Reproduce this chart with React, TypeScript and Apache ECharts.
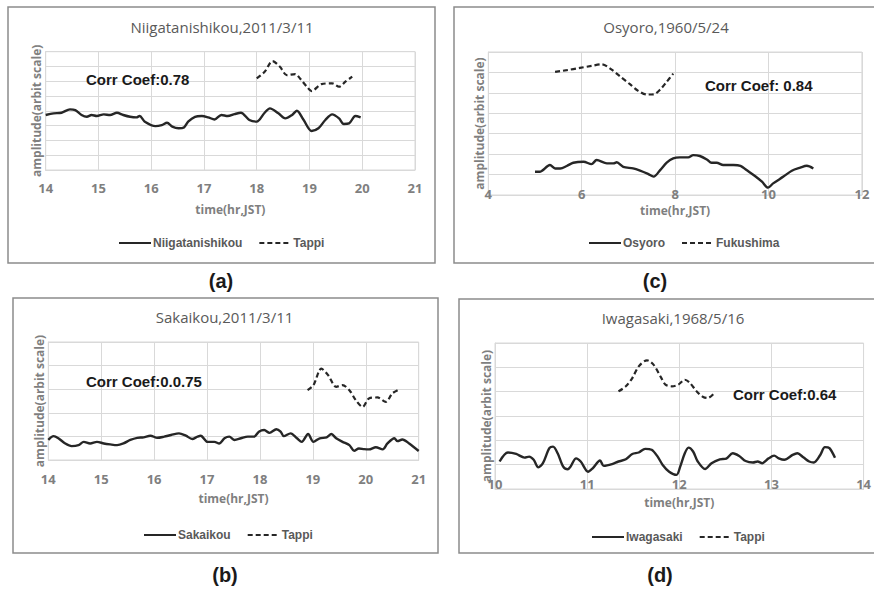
import React, { useEffect, useRef } from "react";
import * as echarts from "echarts";

// ---------- data (hours JST, amplitude in arbitrary grid units) ----------
const niigataTime = [14.0, 14.15, 14.3, 14.46, 14.56, 14.68, 14.78, 14.87, 14.97, 15.1, 15.22, 15.35, 15.47, 15.6, 15.72, 15.78, 15.88, 16.08, 16.2, 16.3, 16.4, 16.52, 16.62, 16.7, 16.83, 16.96, 17.08, 17.2, 17.33, 17.45, 17.58, 17.7, 17.86, 18.0, 18.15, 18.25, 18.41, 18.54, 18.67, 18.76, 18.89, 19.04, 19.17, 19.3, 19.43, 19.56, 19.65, 19.75, 19.87, 19.97];
const niigataAmp = [3.72, 3.83, 3.87, 4.1, 4.05, 3.72, 3.6, 3.72, 3.65, 3.76, 3.72, 3.87, 3.72, 3.6, 3.56, 3.65, 3.27, 2.97, 3.04, 3.2, 2.93, 2.82, 2.88, 3.27, 3.6, 3.65, 3.56, 3.42, 3.72, 3.65, 3.78, 3.87, 3.38, 3.27, 3.87, 4.17, 3.83, 3.49, 3.72, 4.01, 3.38, 2.64, 2.82, 3.38, 3.76, 3.49, 3.11, 3.15, 3.65, 3.56];
const tappiATime = [18.0, 18.15, 18.3, 18.44, 18.57, 18.73, 18.82, 18.95, 19.04, 19.23, 19.43, 19.56, 19.68, 19.81];
const tappiAAmp = [6.19, 6.64, 7.36, 6.98, 6.42, 6.49, 6.19, 5.63, 5.34, 5.81, 5.86, 5.63, 5.97, 6.31];

const osyoroTime = [5.0, 5.1, 5.32, 5.43, 5.54, 5.68, 5.82, 6.04, 6.21, 6.32, 6.54, 6.68, 6.75, 6.89, 7.1, 7.25, 7.42, 7.54, 7.68, 7.82, 7.96, 8.1, 8.28, 8.39, 8.53, 8.68, 8.78, 8.89, 9.03, 9.25, 9.4, 9.53, 9.71, 9.86, 9.99, 10.1, 10.32, 10.5, 10.68, 10.82, 10.96];
const osyoroAmp = [1.14, 1.14, 1.47, 1.3, 1.3, 1.42, 1.58, 1.63, 1.51, 1.71, 1.55, 1.55, 1.6, 1.38, 1.3, 1.19, 1.03, 0.9, 1.22, 1.58, 1.79, 1.84, 1.84, 1.95, 1.91, 1.74, 1.58, 1.58, 1.47, 1.47, 1.43, 1.22, 0.93, 0.65, 0.36, 0.57, 0.9, 1.19, 1.34, 1.43, 1.3];
const fukushimaTime = [5.43, 5.68, 5.96, 6.21, 6.43, 6.61, 6.82, 7.04, 7.21, 7.39, 7.54, 7.68, 7.82, 7.96];
const fukushimaAmp = [6.03, 6.11, 6.22, 6.32, 6.4, 6.19, 5.81, 5.41, 5.1, 4.92, 4.93, 5.16, 5.54, 5.94];

const sakaiTime = [14.0, 14.1, 14.19, 14.32, 14.44, 14.57, 14.67, 14.79, 14.92, 15.05, 15.17, 15.3, 15.42, 15.55, 15.68, 15.8, 15.93, 16.06, 16.19, 16.32, 16.47, 16.6, 16.72, 16.82, 16.88, 17.01, 17.14, 17.23, 17.33, 17.42, 17.52, 17.64, 17.77, 17.89, 17.98, 18.08, 18.18, 18.31, 18.39, 18.45, 18.58, 18.7, 18.79, 18.91, 19.01, 19.13, 19.26, 19.35, 19.44, 19.56, 19.69, 19.78, 19.87, 19.97, 20.06, 20.19, 20.32, 20.41, 20.54, 20.6, 20.69, 20.82, 21.0];
const sakaiAmp = [0.85, 1.01, 0.92, 0.7, 0.59, 0.63, 0.77, 0.7, 0.77, 0.7, 0.66, 0.63, 0.7, 0.85, 0.94, 0.96, 1.03, 0.94, 0.99, 1.06, 1.13, 1.03, 0.89, 0.99, 1.03, 0.77, 0.77, 0.7, 0.92, 0.99, 0.85, 0.92, 0.99, 0.99, 1.2, 1.27, 1.15, 1.3, 1.2, 1.01, 1.13, 0.92, 0.77, 1.1, 0.77, 0.92, 0.96, 1.1, 0.92, 0.77, 0.63, 0.39, 0.49, 0.46, 0.45, 0.54, 0.45, 0.7, 0.92, 0.8, 0.87, 0.7, 0.38];
const tappiBTime = [18.9, 19.01, 19.16, 19.29, 19.44, 19.56, 19.69, 19.81, 19.94, 20.06, 20.22, 20.38, 20.5, 20.63];
const tappiBAmp = [2.96, 3.17, 3.87, 3.59, 3.1, 3.17, 2.96, 2.54, 2.25, 2.61, 2.65, 2.46, 2.82, 2.99];

const iwaTime = [10.05, 10.14, 10.23, 10.32, 10.37, 10.42, 10.47, 10.52, 10.59, 10.63, 10.68, 10.74, 10.79, 10.82, 10.88, 10.93, 11.01, 11.06, 11.14, 11.18, 11.27, 11.34, 11.42, 11.49, 11.56, 11.63, 11.7, 11.76, 11.82, 11.89, 11.97, 12.01, 12.06, 12.1, 12.15, 12.2, 12.28, 12.35, 12.44, 12.51, 12.58, 12.65, 12.72, 12.8, 12.85, 12.9, 12.97, 13.03, 13.08, 13.14, 13.23, 13.28, 13.35, 13.41, 13.46, 13.53, 13.58, 13.63, 13.69];
const iwaAmp = [1.13, 1.5, 1.44, 1.29, 1.33, 1.2, 0.89, 1.06, 1.68, 1.74, 1.47, 0.92, 0.81, 0.92, 1.26, 1.13, 0.71, 0.85, 1.17, 0.95, 1.02, 1.13, 1.22, 1.44, 1.5, 1.65, 1.61, 1.36, 0.99, 0.71, 0.58, 0.92, 1.47, 1.7, 1.54, 1.13, 0.82, 1.06, 1.22, 1.25, 1.47, 1.36, 1.15, 1.09, 1.13, 1.06, 1.26, 1.37, 1.26, 1.2, 1.4, 1.47, 1.29, 1.13, 1.09, 1.4, 1.72, 1.68, 1.28];
const tappiDTime = [11.34, 11.42, 11.49, 11.56, 11.65, 11.72, 11.8, 11.85, 11.92, 11.99, 12.06, 12.11, 12.19, 12.26, 12.31, 12.38];
const tappiDAmp = [4.01, 4.22, 4.56, 5.04, 5.29, 5.11, 4.6, 4.29, 4.22, 4.29, 4.49, 4.38, 4.01, 3.78, 3.74, 3.94];

const panelTitles = ["Niigatanishikou,2011/3/11", "Osyoro,1960/5/24", "Sakaikou,2011/3/11", "Iwagasaki,1968/5/16"];
const corrTexts = ["Corr Coef:0.78", "Corr Coef: 0.84", "Corr Coef:0.0.75", "Corr Coef:0.64"];
const panelLetters = ["(a)", "(c)", "(b)", "(d)"];
const solidNames = ["Niigatanishikou", "Osyoro", "Sakaikou", "Iwagasaki"];
const dashedNames = ["Tappi", "Fukushima", "Tappi", "Tappi"];
const xRanges = [[14, 21, 1], [4, 12, 2], [14, 21, 1], [10, 14, 1]];
const yMaxes = [8, 7, 5, 6];

const solidData = [[niigataTime, niigataAmp], [osyoroTime, osyoroAmp], [sakaiTime, sakaiAmp], [iwaTime, iwaAmp]];
const dashedData = [[tappiATime, tappiAAmp], [fukushimaTime, fukushimaAmp], [tappiBTime, tappiBAmp], [tappiDTime, tappiDAmp]];

// ---------- layout ----------
const layout = [
  { grid: { left: 45.7, top: 51.7, width: 369.3, height: 118.3 }, box: [8, 7, 427, 256], titleX: 222, titleY: 19, corr: [86, 79], letter: [221, 281], legend: [118, 237], labelMargin: 11, nameGap: 33 },
  { grid: { left: 488.3, top: 52, width: 373.6, height: 143 }, box: [454, 7, 440, 256], titleX: 666, titleY: 19, corr: [705, 85], letter: [655, 281], legend: [588, 237], labelMargin: -8, nameGap: 9 },
  { grid: { left: 48.3, top: 342, width: 370.4, height: 118 }, box: [13, 298, 425, 255], titleX: 224.5, titleY: 309, corr: [86, 381], letter: [225, 575], legend: [143, 529], labelMargin: 12, nameGap: 32 },
  { grid: { left: 495, top: 343, width: 371.7, height: 146 }, box: [459, 299, 440, 254], titleX: 673, titleY: 310, corr: [733, 394], letter: [660, 575], legend: [591, 531], labelMargin: -12, nameGap: 7 },
];

const GRID_COLOR = "#d9d9d9";
const AXIS_TEXT = "#7f7f7f";
const TITLE_COLOR = "#595959";
const LINE_COLOR = "#262626";
const SANS = "'Open Sans', 'Noto Sans', sans-serif";
const ARIAL = "'Liberation Sans', Arial, sans-serif";

const zip = (t: number[], v: number[]) => t.map((x, i) => [x, v[i]]);

function buildOption() {
  const grid: any[] = [];
  const xAxis: any[] = [];
  const yAxis: any[] = [];
  const series: any[] = [];
  const title: any[] = [];
  const legend: any[] = [];
  const graphic: any[] = [];

  layout.forEach((L, i) => {
    grid.push({ ...L.grid, show: true, borderColor: GRID_COLOR, borderWidth: 1, containLabel: false });
    const [xmin, xmax, xint] = xRanges[i];
    xAxis.push({
      gridIndex: i, type: "value", min: xmin, max: xmax, interval: xint,
      axisLine: { show: true, lineStyle: { color: GRID_COLOR } },
      axisTick: { show: false },
      splitLine: { show: true, lineStyle: { color: GRID_COLOR } },
      axisLabel: { margin: L.labelMargin, color: AXIS_TEXT, fontWeight: "bold", fontSize: 13, fontFamily: SANS },
      name: "time(hr,JST)", nameLocation: "middle", nameGap: L.nameGap,
      nameTextStyle: { color: AXIS_TEXT, fontWeight: "bold", fontSize: 12, fontFamily: SANS },
    });
    yAxis.push({
      gridIndex: i, type: "value", min: 0, max: yMaxes[i], interval: 1,
      axisLine: { show: true, lineStyle: { color: GRID_COLOR } },
      axisTick: { show: false },
      axisLabel: { show: false },
      splitLine: { show: true, lineStyle: { color: GRID_COLOR } },
      name: "amplitude(arbit scale)", nameLocation: "middle", nameGap: 3, nameRotate: 90,
      nameTextStyle: { color: AXIS_TEXT, fontWeight: "bold", fontSize: 12, fontFamily: SANS },
    });
    series.push({
      name: solidNames[i], type: "line", xAxisIndex: i, yAxisIndex: i,
      data: zip(solidData[i][0], solidData[i][1]), symbol: "none", showSymbol: false, smooth: 0.3,
      color: LINE_COLOR, lineStyle: { color: LINE_COLOR, width: 2.4, type: "solid" },
    });
    series.push({
      name: dashedNames[i], type: "line", xAxisIndex: i, yAxisIndex: i,
      data: zip(dashedData[i][0], dashedData[i][1]), symbol: "none", showSymbol: false, smooth: 0.3,
      color: LINE_COLOR, lineStyle: { color: LINE_COLOR, width: 2.2, type: [5, 3] },
    });
    title.push({
      text: panelTitles[i], left: L.titleX, top: L.titleY, textAlign: "center", padding: 0,
      textStyle: { color: TITLE_COLOR, fontSize: 15, fontWeight: "normal", fontFamily: SANS },
    });
    legend.push({
      left: L.legend[0], top: L.legend[1], padding: 0, itemWidth: 32, itemHeight: 11, itemGap: 16,
      data: [solidNames[i], dashedNames[i]], selectedMode: false,
      itemStyle: { opacity: 0 },
      lineStyle: { width: 2 },
      textStyle: { color: TITLE_COLOR, fontSize: 12, fontFamily: ARIAL, fontWeight: "bold", padding: [0, 0, 0, -3] },
    });
    graphic.push({
      type: "rect", silent: true, z: 0,
      shape: { x: L.box[0], y: L.box[1], width: L.box[2], height: L.box[3] },
      style: { fill: "none", stroke: "#8c8c8c", lineWidth: 1.5 },
    });
    graphic.push({
      type: "text", x: L.corr[0], y: L.corr[1], z: 10,
      style: { text: corrTexts[i], fill: "#1a1a1a", fontSize: 15, fontWeight: "bold", fontFamily: ARIAL, align: "left", verticalAlign: "middle", textAlign: "left", textVerticalAlign: "middle" },
    });
    graphic.push({
      type: "text", x: L.letter[0], y: L.letter[1], z: 10,
      style: { text: panelLetters[i], fill: "#1a1a1a", fontSize: 20, fontWeight: "bold", fontFamily: ARIAL, align: "center", verticalAlign: "middle", textAlign: "center", textVerticalAlign: "middle" },
    });
  });

  return { animation: false, backgroundColor: "#ffffff", grid, xAxis, yAxis, series, title, legend, graphic };
}

export default function App() {
  const ref = useRef<HTMLDivElement>(null);
  useEffect(() => {
    if (!ref.current) return;
    const chart = echarts.init(ref.current, undefined, { renderer: "svg" });
    chart.setOption(buildOption() as any);
    return () => chart.dispose();
  }, []);
  return <div ref={ref} style={{ position: "fixed", left: 0, top: 0, width: 874, height: 589, background: "#fff" }} />;
}
